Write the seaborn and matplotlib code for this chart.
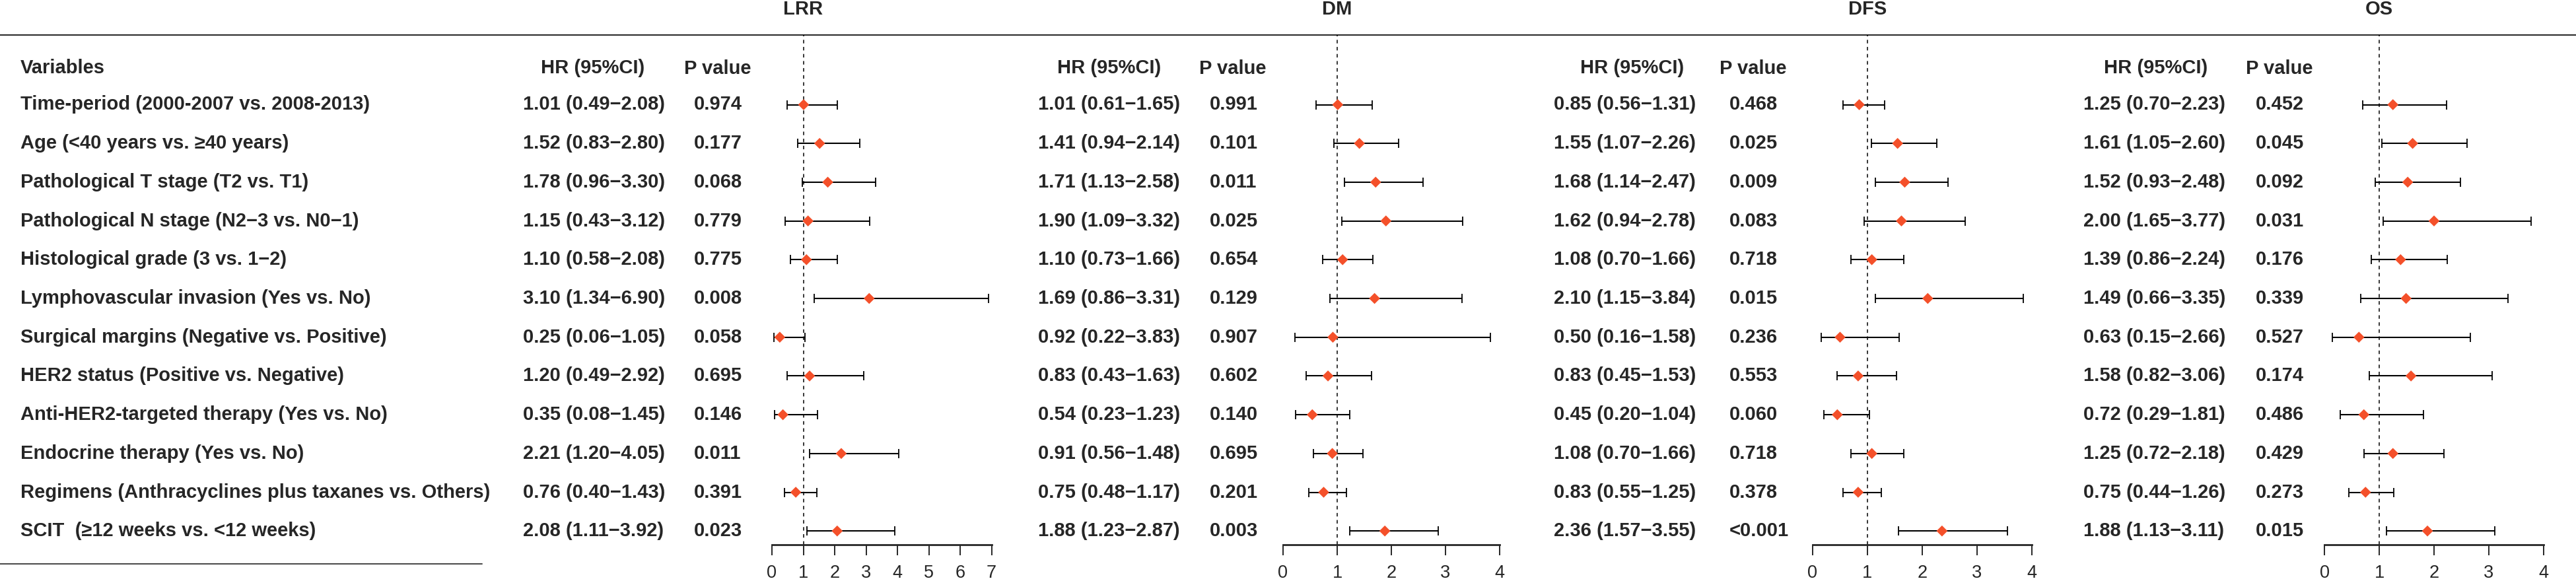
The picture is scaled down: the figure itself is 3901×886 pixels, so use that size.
import matplotlib
matplotlib.use("Agg")
import matplotlib.pyplot as plt
import seaborn as sns

variables = [
    "Time-period (2000-2007 vs. 2008-2013)",
    "Age (<40 years vs. \u226540 years)",
    "Pathological T stage (T2 vs. T1)",
    "Pathological N stage (N2\u22123 vs. N0\u22121)",
    "Histological grade (3 vs. 1\u22122)",
    "Lymphovascular invasion (Yes vs. No)",
    "Surgical margins (Negative vs. Positive)",
    "HER2 status (Positive vs. Negative)",
    "Anti-HER2-targeted therapy (Yes vs. No)",
    "Endocrine therapy (Yes vs. No)",
    "Regimens (Anthracyclines plus taxanes vs. Others)",
    "SCIT  (\u226512 weeks vs. <12 weeks)",
]
outcomes = ["LRR", "DM", "DFS", "OS"]

lrr_hr = [1.01, 1.52, 1.78, 1.15, 1.10, 3.10, 0.25, 1.20, 0.35, 2.21, 0.76, 2.08]
lrr_lo = [0.49, 0.83, 0.96, 0.43, 0.58, 1.34, 0.06, 0.49, 0.08, 1.20, 0.40, 1.11]
lrr_hi = [2.08, 2.80, 3.30, 3.12, 2.08, 6.90, 1.05, 2.92, 1.45, 4.05, 1.43, 3.92]
lrr_p = ["0.974", "0.177", "0.068", "0.779", "0.775", "0.008",
         "0.058", "0.695", "0.146", "0.011", "0.391", "0.023"]

dm_hr = [1.01, 1.41, 1.71, 1.90, 1.10, 1.69, 0.92, 0.83, 0.54, 0.91, 0.75, 1.88]
dm_lo = [0.61, 0.94, 1.13, 1.09, 0.73, 0.86, 0.22, 0.43, 0.23, 0.56, 0.48, 1.23]
dm_hi = [1.65, 2.14, 2.58, 3.32, 1.66, 3.31, 3.83, 1.63, 1.23, 1.48, 1.17, 2.87]
dm_p = ["0.991", "0.101", "0.011", "0.025", "0.654", "0.129",
        "0.907", "0.602", "0.140", "0.695", "0.201", "0.003"]

dfs_hr = [0.85, 1.55, 1.68, 1.62, 1.08, 2.10, 0.50, 0.83, 0.45, 1.08, 0.83, 2.36]
dfs_lo = [0.56, 1.07, 1.14, 0.94, 0.70, 1.15, 0.16, 0.45, 0.20, 0.70, 0.55, 1.57]
dfs_hi = [1.31, 2.26, 2.47, 2.78, 1.66, 3.84, 1.58, 1.53, 1.04, 1.66, 1.25, 3.55]
dfs_p = ["0.468", "0.025", "0.009", "0.083", "0.718", "0.015",
         "0.236", "0.553", "0.060", "0.718", "0.378", "<0.001"]

os_hr = [1.25, 1.61, 1.52, 2.00, 1.39, 1.49, 0.63, 1.58, 0.72, 1.25, 0.75, 1.88]
# the drawn bar for N stage starts near 1.07 although the label reads 1.65
os_lo = [0.70, 1.05, 0.93, 1.07, 0.86, 0.66, 0.15, 0.82, 0.29, 0.72, 0.44, 1.13]
os_hi = [2.23, 2.60, 2.48, 3.77, 2.24, 3.35, 2.66, 3.06, 1.81, 2.18, 1.26, 3.11]
os_p = ["0.452", "0.045", "0.092", "0.031", "0.176", "0.339",
        "0.527", "0.174", "0.486", "0.429", "0.273", "0.015"]

axis_max = [7, 4, 4, 4]


def ci_labels(hr, lo, hi):
    return [f"{h:.2f} ({l:.2f}\u2212{u:.2f})" for h, l, u in zip(hr, lo, hi)]


os_labels = ci_labels(os_hr, os_lo, os_hi)
os_labels[3] = "2.00 (1.65\u22123.77)"

data = {
    "LRR": (lrr_hr, lrr_lo, lrr_hi, lrr_p, ci_labels(lrr_hr, lrr_lo, lrr_hi)),
    "DM": (dm_hr, dm_lo, dm_hi, dm_p, ci_labels(dm_hr, dm_lo, dm_hi)),
    "DFS": (dfs_hr, dfs_lo, dfs_hi, dfs_p, ci_labels(dfs_hr, dfs_lo, dfs_hi)),
    "OS": (os_hr, os_lo, os_hi, os_p, os_labels),
}

sns.set_style("white")
plt.rcParams['font.family'] = ['Liberation Sans', 'DejaVu Sans']

W, H = 3901, 886
fig = plt.figure(figsize=(W / 100, H / 100), dpi=100)

# row geometry (pixels)
row0, step = 158.5, 58.7
top_px, axis_px = 53, 825


def to_row(px):
    return (px - row0) / step


bg = fig.add_axes([0, 0, 1, 1])
bg.set_xlim(0, W)
bg.set_ylim(to_row(H), to_row(0))
bg.axis("off")

# panel layout: zero position, right end, text columns
panel_x0 = [1169, 1943, 2745, 3520]
panel_x1 = [1501.5, 2271, 3077, 3852]
hr_x = [792, 1572, 2353, 3155]
p_x = [1051, 1832, 2619, 3416]
hr_head = [898, 1680, 2472, 3265]
p_head = [1087, 1867, 2655, 3452]

fs = 21
rows = list(range(len(variables)))

bg.text(31, -0.95, "Variables", fontsize=fs, fontweight="bold", va="center", ha="left")
for i, v in enumerate(variables):
    bg.text(31, i, v, fontsize=fs, fontweight="bold", va="center", ha="left")

bg.plot([0, W], [to_row(top_px)] * 2, color="#333333", lw=1.6)
bg.plot([0, 730], [to_row(854)] * 2, color="#444444", lw=1.4)

for k, name in enumerate(outcomes):
    hr, lo, hi, pv, labels = data[name]
    x0, x1 = panel_x0[k], panel_x1[k]
    ax = fig.add_axes([x0 / W, 1 - axis_px / H, (x1 - x0) / W, (axis_px - top_px) / H])
    ax.patch.set_alpha(0)
    ax.set_xlim(0, axis_max[k])
    ax.set_ylim(to_row(axis_px), to_row(top_px))

    ax.axvline(1, color="black", lw=1.1, ls=(0, (3.5, 3.5)), zorder=1)
    xerr = [[h - l for h, l in zip(hr, lo)], [u - h for h, u in zip(hr, hi)]]
    ax.errorbar(hr, rows, xerr=xerr, fmt="none", ecolor="black",
                elinewidth=1.5, capsize=4.8, capthick=1.3, zorder=2)
    sns.scatterplot(x=hr, y=rows, ax=ax, marker="D", s=72, color="#F4502A",
                    edgecolor="none", zorder=3, legend=False)

    for side in ["top", "right", "left"]:
        ax.spines[side].set_visible(False)
    ax.spines["bottom"].set_bounds(0, axis_max[k])
    ax.spines["bottom"].set_linewidth(2.0)
    ax.set_xticks(range(axis_max[k] + 1))
    ax.tick_params(axis="x", direction="out", length=11.5, width=1.4,
                   labelsize=19.5, pad=10, bottom=True)
    ax.set_yticks([])
    ax.set_xlabel("")
    ax.set_ylabel("")

    bg.text((x0 + 1 * (x1 - x0) / axis_max[k]), to_row(14), name, fontsize=fs,
            fontweight="bold", ha="center", va="center")
    bg.text(hr_head[k], -0.95, "HR (95%CI)", fontsize=fs, fontweight="bold",
            ha="center", va="center")
    bg.text(p_head[k], -0.92, "P value", fontsize=fs, fontweight="bold",
            ha="center", va="center")
    for i in rows:
        bg.text(hr_x[k], i, labels[i], fontsize=fs, fontweight="bold", ha="left", va="center")
        bg.text(p_x[k], i, pv[i], fontsize=fs, fontweight="bold", ha="left", va="center")

fig.savefig("out.png", dpi=100)
